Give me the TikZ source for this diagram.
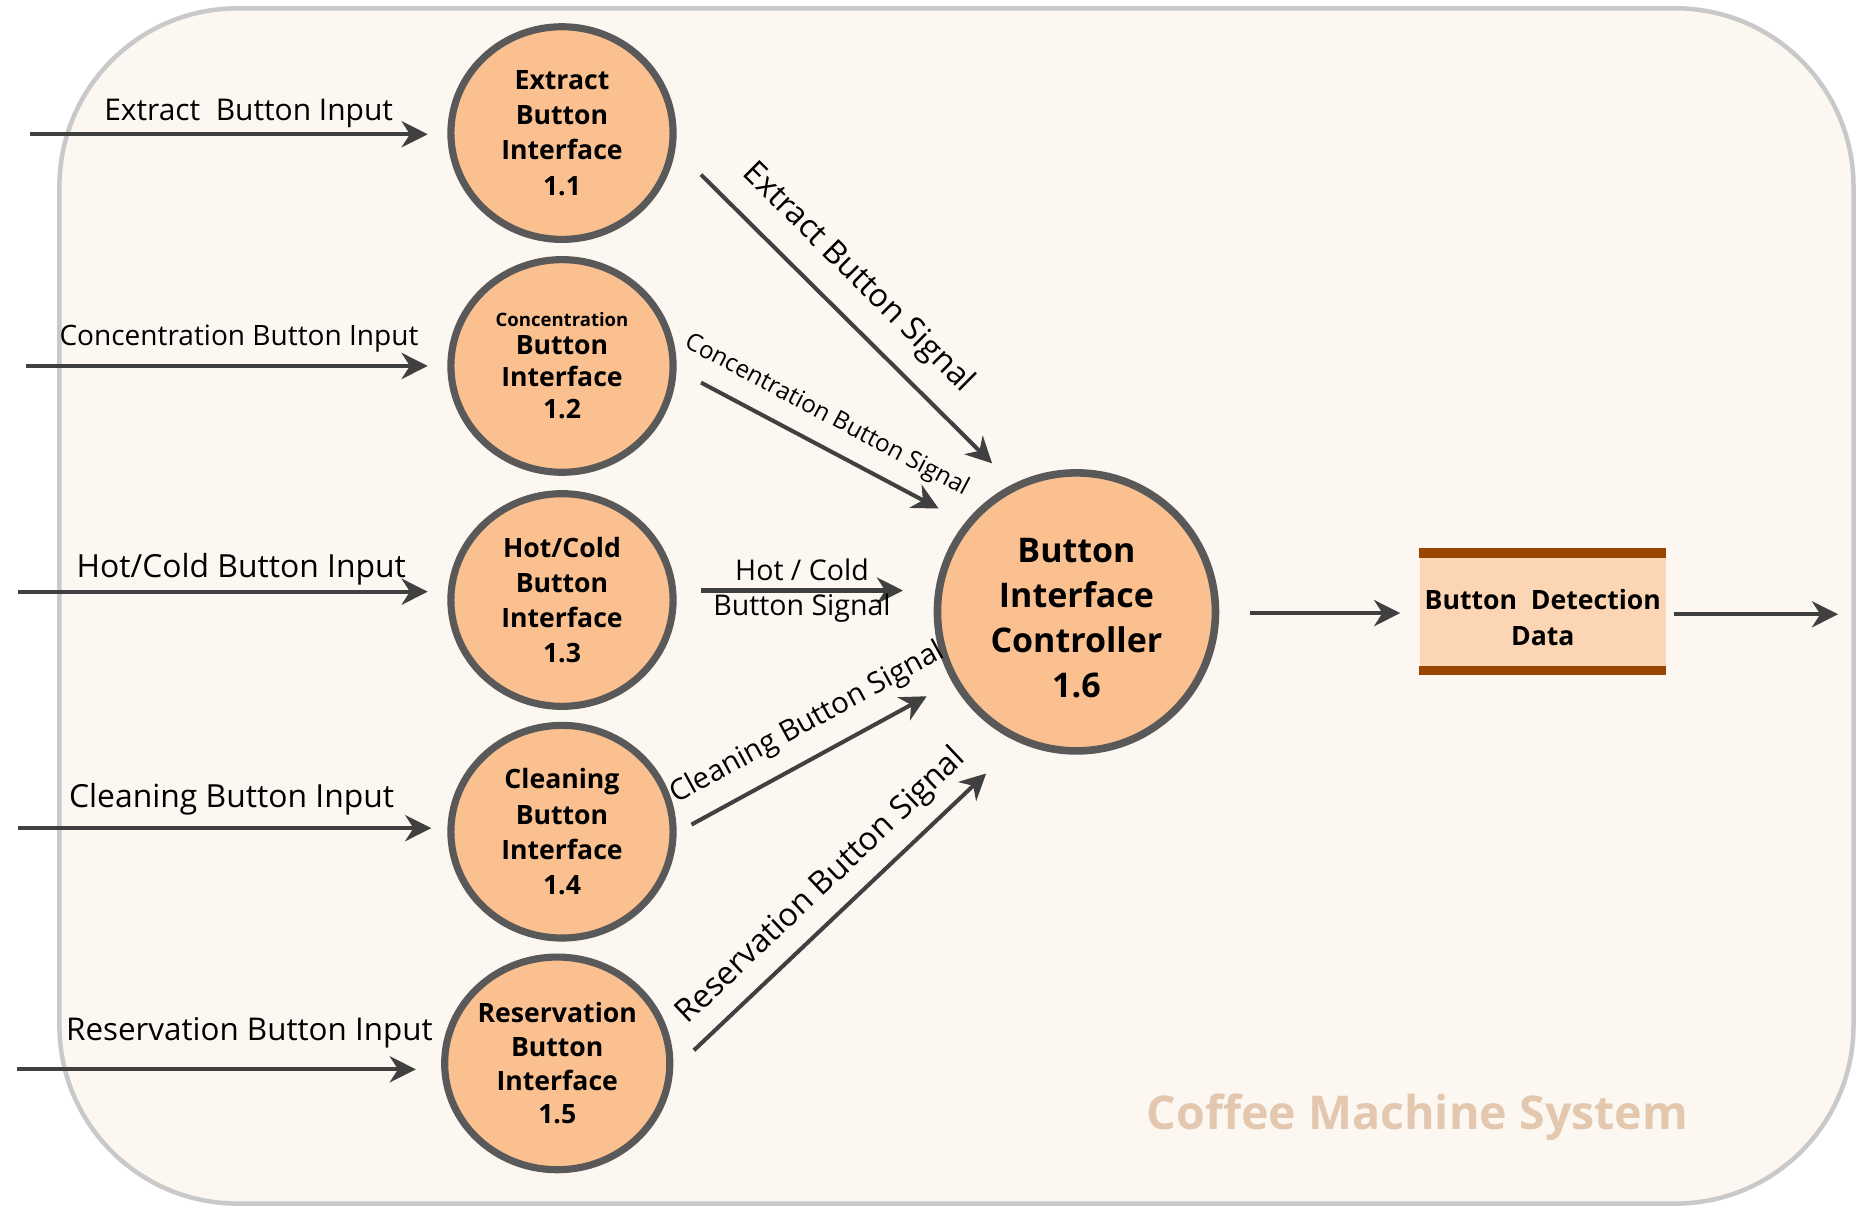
\documentclass[tikz,border=0pt]{standalone}
\usepackage{fontspec}
\setmainfont{Open Sans}
\usetikzlibrary{shapes.geometric,arrows.meta,calc}
\definecolor{framegray}{HTML}{C9C9C9}
\definecolor{panel}{HTML}{FCF7F1}
\definecolor{bubble}{HTML}{FAC090}
\definecolor{rimgray}{HTML}{595959}
\definecolor{flowgray}{HTML}{404040}
\definecolor{storefill}{HTML}{FCD5B5}
\definecolor{storebar}{HTML}{994700}
\definecolor{titletint}{HTML}{E3C7AE}
\begin{document}
\begin{tikzpicture}[x=0.5pt,y=-0.5pt,
  proc/.style={ellipse, draw=rimgray, line width=3pt, fill=bubble,
    minimum width=93.5pt, minimum height=89.5pt, inner sep=0pt, align=center,
    font=\bfseries\fontsize{11.2}{14.8}\selectfont},
  flow/.style={draw=flowgray, line width=1.7pt,
    -{Stealth[length=11pt,width=11pt,inset=3.5pt]}},
  inlbl/.style={inner sep=2pt, text=black},
  siglbl/.style={inner sep=1pt, text=black, sloped}
]
\useasboundingbox (0,0) rectangle (1568,1017);
\fill[white] (0,0) rectangle (1568,1017);
% system boundary
\draw[framegray, line width=1.9pt, fill=panel, rounded corners=75pt] (50,7) rectangle (1560,1013);

% processes
\node[proc] (c1) at (473,112) {Extract\\Button\\Interface\\1.1};
\node[proc, font=\bfseries\fontsize{11.2}{13.6}\selectfont] (c2) at (473,308)
  {{\fontsize{7.8}{10}\selectfont Concentration}\\[-2pt]Button\\Interface\\1.2};
\node[proc] (c3) at (473,505) {Hot/Cold\\Button\\Interface\\1.3};
\node[proc] (c4) at (473,700) {Cleaning\\Button\\Interface\\1.4};
\node[proc, font=\bfseries\fontsize{11.2}{14.2}\selectfont] (c5) at (469,895) {Reservation\\Button\\Interface\\1.5};
\node[proc, minimum width=117pt, minimum height=117pt, line width=3.2pt,
  font=\bfseries\fontsize{14.3}{19}\selectfont] (c6) at (906,515)
  {\\[-3.5pt]Button\\Interface\\Controller\\1.6};

% data store
\node[fill=storefill, minimum width=103.5pt, minimum height=53pt, inner sep=0pt] (st) at (1298.5,515) {};
\fill[storebar] (st.north west) rectangle ([yshift=-4pt]st.north east);
\fill[storebar] ([yshift=4pt]st.south west) rectangle (st.south east);
\node[align=center, inner sep=0pt, font=\bfseries\fontsize{11.2}{15}\selectfont] (stlabel)
  at ([yshift=-2.5pt]st.center) {Button\ \ Detection\\Data};

% external inputs
\coordinate (s1) at (25,113);
\coordinate (s2) at (22,308);
\coordinate (s3) at (15,498);
\coordinate (s4) at (15,697);
\coordinate (s5) at (14,900);
\draw[flow] (s1) -- ([shift={(-113,1)}]c1.center)
  node[inlbl, pos=0.55, above, font=\fontsize{12.6}{15}\selectfont] {Extract\ \ Button Input};
\draw[flow] (s2) -- ([shift={(-113,0)}]c2.center)
  node[inlbl, pos=0.53, above=3pt, font=\fontsize{11.8}{15}\selectfont] {Concentration Button Input};
\draw[flow] (s3) -- ([shift={(-113,-7)}]c3.center)
  node[inlbl, pos=0.545, above, font=\fontsize{13.4}{15}\selectfont] {Hot/Cold Button Input};
\draw[flow] (s4) -- ([shift={(-110,-3)}]c4.center)
  node[inlbl, pos=0.517, above=2.5pt, font=\fontsize{13.4}{15}\selectfont] {Cleaning Button Input};
\draw[flow] (s5) -- ([shift={(-119,5)}]c5.center)
  node[inlbl, pos=0.583, above=6pt, font=\fontsize{13.2}{15}\selectfont] {Reservation Button Input};

% signals to the controller
\draw[flow] ([shift={(117,35)}]c1.center) -- ([shift={(-71,-125)}]c6.center)
  node[siglbl, pos=0.45, above=7pt, font=\fontsize{13.5}{16}\selectfont] {Extract Button Signal};
\draw[flow] ([shift={(117,14)}]c2.center) -- ([shift={(-116,-87)}]c6.center)
  node[siglbl, pos=0.47, above=5.5pt, font=\fontsize{10.2}{12}\selectfont] {Concentration Button Signal};
\draw[flow] ([shift={(117,-8)}]c3.center) -- ([shift={(-146,-18)}]c6.center)
  node[inner sep=0pt, pos=0.5, align=center, font=\fontsize{12}{14.5}\selectfont] {Hot / Cold\\Button Signal};
\draw[flow] ([shift={(109,-6)}]c4.center) -- ([shift={(-126,71)}]c6.center)
  node[siglbl, pos=0.56, above=6pt, font=\fontsize{12.3}{15}\selectfont] {Cleaning Button Signal};
\draw[flow] ([shift={(115,-11)}]c5.center) -- ([shift={(-76,136)}]c6.center)
  node[siglbl, pos=0.51, above=4.5pt, font=\fontsize{13.5}{16}\selectfont] {Reservation Button Signal};

% controller output
\coordinate (sink) at (1547,517);
\draw[flow] ([shift={(146,1)}]c6.center) -- ([shift={(-120,1)}]st.center);
\draw[flow] ([shift={(110,2)}]st.center) -- (sink);

% boundary caption
\node[text=titletint, font=\bfseries\fontsize{19.6}{22}\selectfont] (title) at (1193,940)
  {Coffee Machine System};
\end{tikzpicture}
\end{document}
